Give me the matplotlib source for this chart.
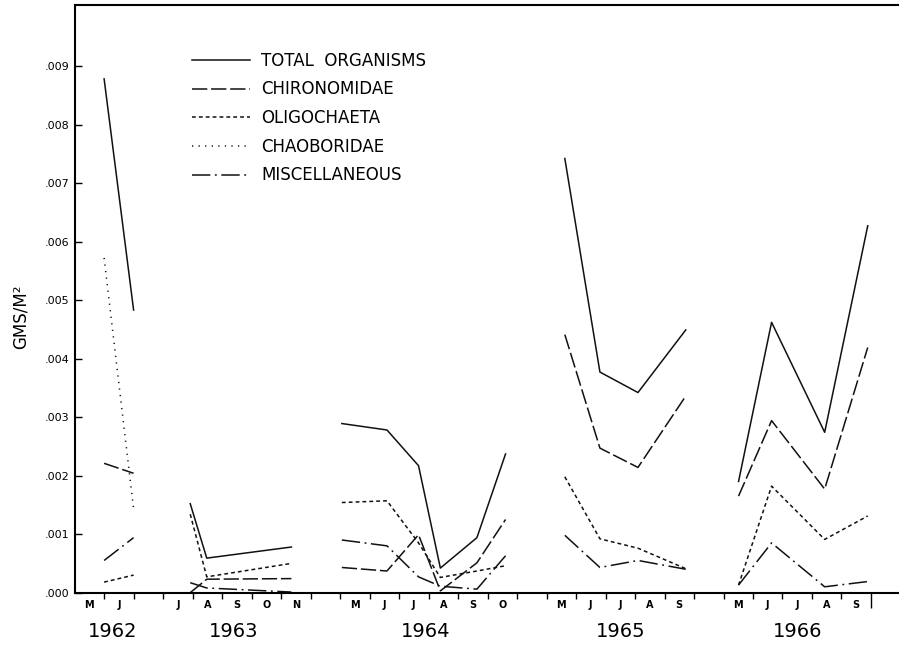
import numpy as np
import matplotlib.pyplot as plt
from matplotlib.ticker import FuncFormatter

# month slots along the x axis (label sits in the middle of each slot)
month_labels = ['M', 'J', '', 'J', 'A', 'S', 'O', 'N', '',
                'M', 'J', 'J', 'A', 'S', 'O', '',
                'M', 'J', 'J', 'A', 'S', '',
                'M', 'J', 'J', 'A', 'S']
years = ['1962', '1963', '1964', '1965', '1966']
year_pos = [1.3, 5.4, 11.9, 18.5, 24.5]

# sampling dates (in month slots) for each year
x62 = [1.0, 2.0]
x63 = [3.92, 4.48, 7.35]
x64 = [9.06, 10.59, 11.66, 12.40, 13.64, 14.61]
x65 = [16.62, 17.81, 19.10, 20.72]
x66 = [22.51, 23.63, 25.43, 26.89]
year_x = [x62, x63, x64, x65, x66]

# GMS/M2 per group, one list per year
total = [[0.00878, 0.00483],
         [0.00152, 0.00059, 0.00078],
         [0.00289, 0.00278, 0.00217, 0.00042, 0.00094, 0.00237],
         [0.00742, 0.00377, 0.00342, 0.00449],
         [0.00190, 0.00462, 0.00274, 0.00627]]
chiro = [[0.00221, 0.00204],
         [0.00000, 0.00023, 0.00024],
         [0.00043, 0.00037, 0.00099, 0.00003, 0.00051, 0.00125],
         [0.00441, 0.00247, 0.00214, 0.00336],
         [0.00165, 0.00294, 0.00177, 0.00419]]
oligo = [[0.00018, 0.00030],
         [0.00134, 0.00027, 0.00050],
         [0.00154, 0.00157, 0.00085, 0.00026, 0.00037, 0.00046],
         [0.00198, 0.00092, 0.00076, 0.00041],
         [0.00013, 0.00182, 0.00091, 0.00131]]
chaob = [[0.00572, 0.00143], None, None, None, None]
misc = [[0.00055, 0.00094],
        [0.00017, 0.00008, 0.00001],
        [0.00090, 0.00080, 0.00027, 0.00011, 0.00006, 0.00063],
        [0.00098, 0.00043, 0.00055, 0.00040],
        [0.00013, 0.00085, 0.00010, 0.00019]]

series = [
    ('TOTAL  ORGANISMS', total, '-'),
    ('CHIRONOMIDAE', chiro, (0, (10, 2.5))),
    ('OLIGOCHAETA', oligo, (0, (2.5, 2))),
    ('CHAOBORIDAE', chaob, (0, (0.8, 3.5))),
    ('MISCELLANEOUS', misc, (0, (12, 3, 1.2, 3))),
]

fig = plt.figure(figsize=(8.99, 6.47), dpi=100)
ax = fig.add_axes([0.083, 0.084, 0.917, 0.908])

for name, vals, ls in series:
    first = True
    for xs, ys in zip(year_x, vals):
        if ys is None:
            continue
        ax.plot(xs, ys, color='#111111', lw=1.1, linestyle=ls,
                label=name if first else None)
        first = False

ax.set_xlim(0, 27.95)
ax.set_ylim(0, 0.01004)

for s in ['top', 'left', 'bottom']:
    ax.spines[s].set_linewidth(1.5)
ax.spines['right'].set_visible(False)

# y axis
ax.set_yticks(np.arange(0, 0.0095, 0.001))
ax.yaxis.set_major_formatter(FuncFormatter(lambda v, p: f'{v:.3f}'.lstrip('0')))
ax.tick_params(axis='y', direction='in', length=5, width=1, labelsize=8, pad=4)
ax.set_ylabel('GMS/M²', fontsize=12)
ax.yaxis.set_label_coords(-0.055, 0.47)

# x axis: ticks on slot boundaries, month letters in the middle
ax.set_xticks(np.arange(1, 28))
ax.set_xticklabels([])
ax.set_xticks(np.arange(len(month_labels)) + 0.5, minor=True)
ax.set_xticklabels(month_labels, minor=True, fontsize=7, fontweight='bold')
ax.tick_params(axis='x', which='major', direction='out', length=4, width=1)
ax.tick_params(axis='x', which='minor', length=0, pad=5)
ax.xaxis.get_major_ticks()[-1].tick1line.set_markersize(11)

for yr, pos in zip(years, year_pos):
    ax.annotate(yr, xy=(pos, 0), xycoords=('data', 'axes fraction'),
                xytext=(0, -28), textcoords='offset points',
                ha='center', va='center', fontsize=14)

ax.legend(loc='upper left', bbox_to_anchor=(0.2136, 0.92),
          bbox_transform=fig.transFigure, frameon=False, fontsize=12,
          handlelength=3.45, handletextpad=0.7, labelspacing=0.64,
          borderpad=0, borderaxespad=0)

fig.savefig('out.png', dpi=100)
